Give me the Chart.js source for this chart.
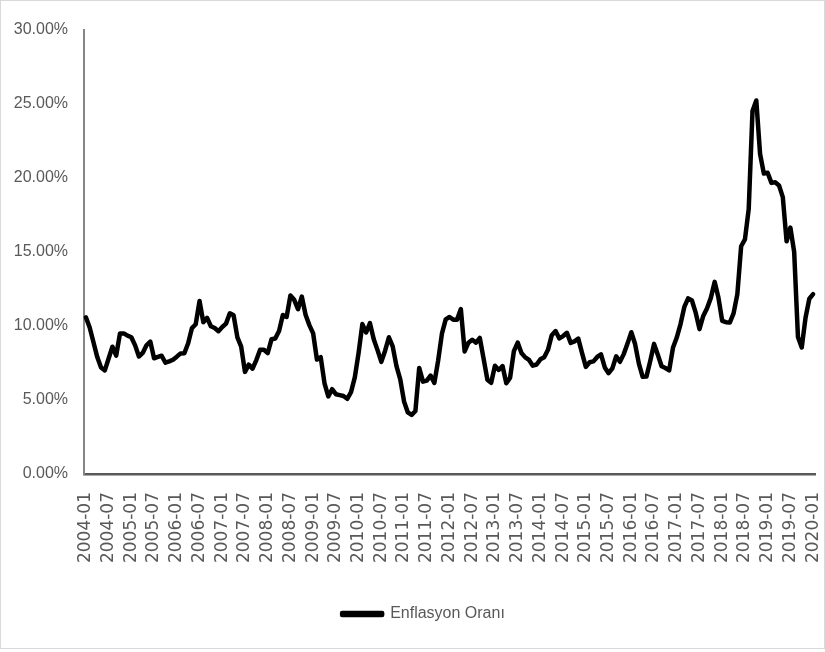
<!DOCTYPE html>
<html lang="tr">
<head>
<meta charset="utf-8">
<title>Enflasyon Oranı</title>
<script src="https://cdn.jsdelivr.net/npm/chart.js@4.4.1/dist/chart.umd.min.js"></script>
<style>
    html, body { margin: 0; padding: 0; background: #fff; }
    #frame { position: absolute; left: 0; top: 0; width: 823px; height: 647px; border: 1px solid #d9d9d9; }
    #chart { position: absolute; left: 0; top: 0; }
</style>
</head>
<body>
<div id="frame"></div>
<canvas id="chart" width="825" height="652"></canvas>
<script>
// ========== DATA (yıllık TÜFE değişimi, %) ==========
const rates2004 = [10.59, 9.9, 8.9, 7.9, 7.2, 7.0, 7.8, 8.6, 8.0, 9.5, 9.5, 9.35];
const rates2005 = [9.24, 8.69, 7.94, 8.18, 8.70, 8.95, 7.82, 7.91, 7.99, 7.52, 7.61, 7.72];
const rates2006 = [7.93, 8.15, 8.16, 8.83, 9.86, 10.12, 11.69, 10.26, 10.55, 9.98, 9.86, 9.65];
const rates2007 = [9.93, 10.16, 10.86, 10.72, 9.23, 8.60, 6.90, 7.39, 7.12, 7.70, 8.40, 8.39];
const rates2008 = [8.17, 9.10, 9.15, 9.66, 10.74, 10.61, 12.06, 11.77, 11.13, 11.99, 10.76, 10.06];
const rates2009 = [9.50, 7.73, 7.89, 6.13, 5.24, 5.73, 5.39, 5.33, 5.27, 5.08, 5.53, 6.53];
const rates2010 = [8.19, 10.13, 9.56, 10.19, 9.10, 8.37, 7.58, 8.33, 9.24, 8.62, 7.29, 6.40];
const rates2011 = [4.90, 4.16, 3.99, 4.26, 7.17, 6.24, 6.31, 6.65, 6.15, 7.66, 9.48, 10.45];
const rates2012 = [10.61, 10.43, 10.43, 11.14, 8.28, 8.87, 9.07, 8.88, 9.19, 7.80, 6.37, 6.16];
const rates2013 = [7.31, 7.03, 7.29, 6.13, 6.51, 8.30, 8.88, 8.17, 7.88, 7.71, 7.32, 7.40];
const rates2014 = [7.75, 7.89, 8.39, 9.38, 9.66, 9.16, 9.32, 9.54, 8.86, 8.96, 9.15, 8.17];
const rates2015 = [7.24, 7.55, 7.61, 7.91, 8.09, 7.20, 6.81, 7.14, 7.95, 7.58, 8.10, 8.81];
const rates2016 = [9.58, 8.78, 7.46, 6.57, 6.58, 7.64, 8.79, 8.05, 7.28, 7.16, 7.00, 8.53];
const rates2017 = [9.22, 10.13, 11.29, 11.87, 11.72, 10.90, 9.79, 10.68, 11.20, 11.90, 12.98, 11.92];
const rates2018 = [10.35, 10.26, 10.23, 10.85, 12.15, 15.39, 15.85, 17.90, 24.52, 25.24, 21.62, 20.30];
const rates2019 = [20.35, 19.67, 19.71, 19.50, 18.71, 15.72, 16.65, 15.01, 9.26, 8.55, 10.56, 11.84];
const rates2020 = [12.15];

const rates = [].concat(
    rates2004, rates2005, rates2006, rates2007, rates2008, rates2009, rates2010, rates2011,
    rates2012, rates2013, rates2014, rates2015, rates2016, rates2017, rates2018, rates2019, rates2020
);

// ========== CATEGORIES (YYYY-MM) ==========
const months = rates.map((_, i) => {
    const year = 2004 + Math.floor(i / 12);
    const month = (i % 12) + 1;
    return `${year}-${String(month).padStart(2, '0')}`;
});
const labelEvery = 6;
const yTicks = [0, 5, 10, 15, 20, 25, 30];

// ========== LEGEND NUDGE ==========
// legend sits a bit right of the canvas centre
const legendShift = {
    id: 'legendShift',
    afterLayout(chart) {
        chart.legend.left += 16;
        chart.legend.right += 16;
    }
};

// ========== CHART ==========
const TEXT_COLOR = '#595959';
const ctx = document.getElementById('chart').getContext('2d');

new Chart(ctx, {
    type: 'line',
    data: {
        labels: months,
        datasets: [{
            label: 'Enflasyon Oranı',
            data: rates,
            borderColor: '#000000',
            backgroundColor: '#000000',
            borderWidth: 4.5,
            borderJoinStyle: 'round',
            borderCapStyle: 'round',
            pointRadius: 0,
            tension: 0
        }]
    },
    plugins: [legendShift],
    options: {
        responsive: false,
        animation: false,
        layout: { padding: { top: 30, right: 10, left: 0, bottom: 20 } },
        plugins: {
            legend: {
                position: 'bottom',
                labels: {
                    color: TEXT_COLOR,
                    font: { family: 'Liberation Sans', size: 16 },
                    boxWidth: 40,
                    boxHeight: 2,
                    padding: 10
                }
            },
            tooltip: { enabled: false }
        },
        scales: {
            x: {
                offset: true,
                grid: { display: false, drawTicks: false },
                border: { color: '#595959', width: 2.5 },
                ticks: {
                    autoSkip: false,
                    minRotation: 90,
                    maxRotation: 90,
                    padding: 18,
                    color: TEXT_COLOR,
                    font: { family: 'DejaVu Sans', size: 17 },
                    callback: (v, i) => (i % labelEvery === 0 ? months[i] : null)
                },
                afterFit: s => {
                    s.height = 122;
                    s.paddingLeft = 0;
                    s.paddingRight = 0;
                }
            },
            y: {
                min: yTicks[0],
                max: yTicks[yTicks.length - 1],
                grid: { display: false, drawTicks: false },
                border: { color: '#868686', width: 2 },
                afterBuildTicks: s => { s.ticks = yTicks.map(v => ({ value: v })); },
                ticks: {
                    padding: 16,
                    color: TEXT_COLOR,
                    font: { family: 'Liberation Sans', size: 16 },
                    callback: v => v.toFixed(2) + '%'
                },
                afterFit: s => {
                    s.width = 84;
                    s.paddingTop = 0;
                    s.paddingBottom = 0;
                }
            }
        }
    }
});
</script>
</body>
</html>
